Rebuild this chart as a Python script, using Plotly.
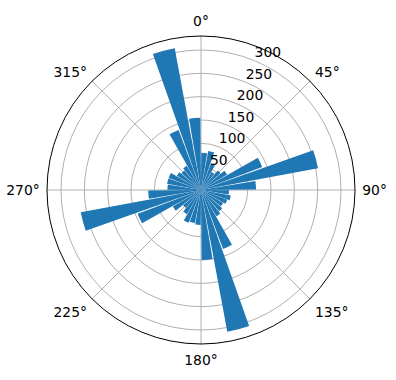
import plotly.graph_objects as go

# bin centers (compass degrees) and counts
directions = [5, 15, 25, 35, 45, 55, 65, 75, 85,
              95, 105, 115, 125, 135, 145, 155, 165, 175,
              185, 195, 205, 215, 225, 235, 245, 255, 265,
              275, 285, 295, 305, 315, 325, 335, 345, 355]
counts = [80, 85, 60, 45, 55, 65, 140, 255, 118,
          60, 65, 60, 55, 60, 65, 135, 309, 150,
          75, 72, 75, 60, 50, 70, 145, 262, 113,
          72, 74, 74, 60, 55, 60, 137, 309, 155]
bar_width = 9
radial_ticks = [50, 100, 150, 200, 250, 300]
radial_label_angle = 22.5
angle_ticks = [0, 45, 90, 135, 180, 225, 270, 315]

font = dict(family="DejaVu Sans", size=13.9, color="black")

fig = go.Figure()
fig.add_trace(go.Barpolar(
    r=counts,
    theta=directions,
    width=[bar_width] * len(directions),
    marker=dict(color="#1f77b4", line=dict(width=0)),
    opacity=1,
))
fig.add_trace(go.Scatterpolar(
    r=radial_ticks,
    theta=[radial_label_angle] * len(radial_ticks),
    mode="text",
    text=[str(v) for v in radial_ticks],
    textposition="top right",
    textfont=font,
    hoverinfo="skip",
    cliponaxis=False,
))

fig.update_layout(
    width=396, height=380,
    margin=dict(l=47, r=41, t=36, b=36),
    paper_bgcolor="white",
    showlegend=False,
    font=font,
    polar=dict(
        bgcolor="white",
        domain=dict(x=[0, 1], y=[0, 1]),
        bargap=0,
        radialaxis=dict(
            range=[0, 330],
            tickvals=radial_ticks,
            showticklabels=False,
            showline=False,
            ticks="",
            gridcolor="#b0b0b0",
            gridwidth=0.8,
            layer="below traces",
        ),
        angularaxis=dict(
            direction="clockwise",
            rotation=90,
            tickmode="array",
            tickvals=angle_ticks,
            ticktext=[f"{a}°" for a in angle_ticks],
            showline=True,
            linecolor="black",
            linewidth=1,
            gridcolor="#b0b0b0",
            gridwidth=0.8,
            ticks="outside",
            ticklen=4,
            tickcolor="rgba(0,0,0,0)",
            tickfont=font,
            layer="below traces",
        ),
    ),
)

fig.write_html("out.html")
